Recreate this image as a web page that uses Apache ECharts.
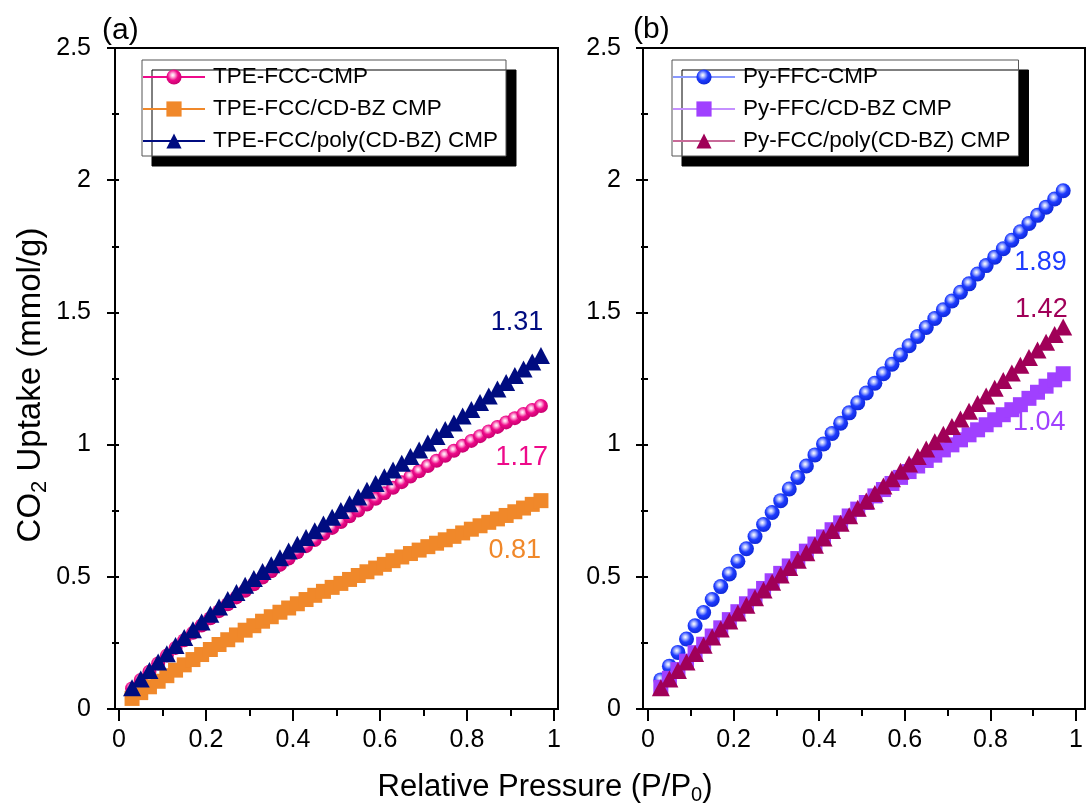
<!DOCTYPE html>
<html>
<head>
<meta charset="utf-8">
<title>CO2 uptake isotherms</title>
<script src="https://cdn.jsdelivr.net/npm/echarts@6/dist/echarts.min.js"></script>
<style>
  html, body { margin: 0; padding: 0; background: #ffffff; }
  #chart { width: 1086px; height: 805px; }
</style>
</head>
<body>
<div id="chart"></div>
<script>
// Relative pressure (P/P0) of every measured point, shared by all isotherms
const pressure = [0.03, 0.05, 0.07, 0.09, 0.11, 0.13, 0.15, 0.17, 0.19, 0.21, 0.23, 0.25,
  0.27, 0.29, 0.31, 0.33, 0.35, 0.37, 0.39, 0.41, 0.43, 0.45, 0.47, 0.49,
  0.51, 0.53, 0.55, 0.57, 0.59, 0.61, 0.63, 0.65, 0.67, 0.69, 0.71, 0.73,
  0.75, 0.77, 0.79, 0.81, 0.83, 0.85, 0.87, 0.89, 0.91, 0.93, 0.95, 0.97];

// (a) CO2 uptake, mmol/g
const tpeFccCmp = [0.078, 0.110, 0.141, 0.172, 0.202, 0.231, 0.260, 0.288, 0.316, 0.343, 0.370, 0.396,
  0.422, 0.447, 0.472, 0.497, 0.521, 0.545, 0.569, 0.593, 0.616, 0.639, 0.662, 0.685,
  0.707, 0.729, 0.751, 0.773, 0.795, 0.816, 0.837, 0.858, 0.879, 0.899, 0.919, 0.939,
  0.958, 0.977, 0.996, 1.014, 1.032, 1.050, 1.067, 1.084, 1.100, 1.116, 1.131, 1.146];
const tpeFccCdbz = [0.040, 0.062, 0.084, 0.105, 0.126, 0.147, 0.167, 0.187, 0.206, 0.225, 0.244, 0.262,
  0.280, 0.298, 0.315, 0.332, 0.349, 0.366, 0.382, 0.398, 0.414, 0.430, 0.445, 0.460,
  0.475, 0.490, 0.505, 0.519, 0.533, 0.547, 0.561, 0.575, 0.588, 0.601, 0.614, 0.627,
  0.640, 0.653, 0.666, 0.680, 0.693, 0.706, 0.719, 0.732, 0.746, 0.760, 0.774, 0.788];
const tpeFccPoly = [0.080, 0.113, 0.146, 0.178, 0.209, 0.240, 0.270, 0.300, 0.329, 0.358, 0.386, 0.414,
  0.441, 0.468, 0.494, 0.520, 0.546, 0.572, 0.598, 0.623, 0.649, 0.674, 0.700, 0.725,
  0.751, 0.776, 0.802, 0.827, 0.853, 0.878, 0.904, 0.929, 0.955, 0.980, 1.006, 1.031,
  1.057, 1.082, 1.108, 1.133, 1.159, 1.184, 1.210, 1.235, 1.261, 1.286, 1.312, 1.337];

// (b) CO2 uptake, mmol/g
const pyFfcCmp = [0.110, 0.162, 0.214, 0.265, 0.315, 0.365, 0.414, 0.463, 0.511, 0.559, 0.606, 0.652,
  0.698, 0.743, 0.788, 0.832, 0.876, 0.919, 0.961, 1.002, 1.042, 1.081, 1.120, 1.158,
  1.195, 1.232, 1.268, 1.304, 1.339, 1.374, 1.409, 1.443, 1.477, 1.510, 1.543, 1.576,
  1.608, 1.645, 1.677, 1.709, 1.741, 1.773, 1.805, 1.836, 1.867, 1.898, 1.929, 1.960];
const pyFfcCdbz = [0.082, 0.116, 0.149, 0.181, 0.213, 0.245, 0.276, 0.307, 0.338, 0.368, 0.398, 0.427,
  0.456, 0.485, 0.513, 0.541, 0.569, 0.597, 0.624, 0.651, 0.678, 0.704, 0.730, 0.756,
  0.781, 0.806, 0.830, 0.853, 0.876, 0.898, 0.919, 0.940, 0.960, 0.980, 0.999, 1.018,
  1.037, 1.056, 1.075, 1.094, 1.113, 1.132, 1.151, 1.175, 1.198, 1.221, 1.245, 1.268];
const pyFccPoly = [0.080, 0.113, 0.146, 0.178, 0.210, 0.241, 0.272, 0.303, 0.333, 0.363, 0.392, 0.421,
  0.450, 0.479, 0.507, 0.535, 0.563, 0.591, 0.619, 0.647, 0.675, 0.703, 0.731, 0.759,
  0.787, 0.815, 0.843, 0.871, 0.899, 0.927, 0.955, 0.983, 1.011, 1.039, 1.068, 1.097,
  1.126, 1.155, 1.184, 1.213, 1.242, 1.271, 1.300, 1.329, 1.358, 1.387, 1.416, 1.445];

const seriesNamesA = ['TPE-FCC-CMP', 'TPE-FCC/CD-BZ CMP', 'TPE-FCC/poly(CD-BZ) CMP'];
const seriesNamesB = ['Py-FFC-CMP', 'Py-FFC/CD-BZ CMP', 'Py-FCC/poly(CD-BZ) CMP'];

// Uptake values quoted next to the curves
const quotedA = [1.31, 1.17, 0.81];
const quotedB = [1.89, 1.42, 1.04];

const panelLabels = ['(a)', '(b)'];
const xTickValues = [0, 0.2, 0.4, 0.6, 0.8, 1];
const yTickValues = [0, 0.5, 1, 1.5, 2, 2.5];

const FONT = '"Liberation Sans", Arial, Helvetica, sans-serif';

const COLORS = {
  pink: '#EE0A8A', orange: '#F0882A', navy: '#000C80',
  blue: '#1E3CFF', violet: '#A040FF', maroon: '#A00058'
};

function sphere(light, base, dark) {
  return {
    type: 'radial', x: 0.42, y: 0.38, r: 0.62,
    colorStops: [
      { offset: 0, color: '#ffffff' },
      { offset: 0.2, color: light },
      { offset: 0.55, color: base },
      { offset: 1, color: dark }
    ]
  };
}

function pairs(ys) {
  return pressure.map((p, i) => [p, ys[i]]);
}

function makeSeries(name, ys, grid, symbol, size, fill, lineColor) {
  return {
    type: 'line',
    name: name,
    xAxisIndex: grid,
    yAxisIndex: grid,
    data: pairs(ys),
    symbol: symbol,
    symbolSize: size,
    showSymbol: true,
    itemStyle: { color: fill, borderWidth: 0 },
    lineStyle: { color: lineColor, width: 1.2 },
    emphasis: { disabled: true },
    animation: false,
    silent: true
  };
}

function xAxisFor(grid) {
  return {
    type: 'value', gridIndex: grid, min: 0, max: 1, interval: 0.2,
    axisLine: { show: false },
    axisTick: { show: true, inside: false, length: 12, lineStyle: { color: '#000', width: 2 } },
    minorTick: { show: true, splitNumber: 2, length: 7, lineStyle: { color: '#000', width: 2 } },
    splitLine: { show: false },
    minorSplitLine: { show: false },
    axisLabel: { color: '#000', fontSize: 25, fontFamily: FONT, margin: 19,
      formatter: v => String(xTickValues.find(t => Math.abs(t - v) < 1e-9) ?? v) }
  };
}

function yAxisFor(grid, offset, margin) {
  return {
    type: 'value', gridIndex: grid, min: 0, max: 2.5, interval: 0.5, offset: offset,
    axisLine: { show: false },
    axisTick: { show: true, inside: false, length: 12, lineStyle: { color: '#000', width: 2 } },
    minorTick: { show: true, splitNumber: 2, length: 7, lineStyle: { color: '#000', width: 2 } },
    splitLine: { show: false },
    minorSplitLine: { show: false },
    axisLabel: { color: '#000', fontSize: 25, fontFamily: FONT, margin: margin,
      formatter: v => String(yTickValues.find(t => Math.abs(t - v) < 1e-9) ?? v) }
  };
}

function legendFor(names, left, top) {
  return {
    data: names,
    orient: 'vertical',
    left: left, top: top,
    itemWidth: 62, itemHeight: 19, itemGap: 8,
    padding: [5, 8, 3, 0],
    backgroundColor: '#ffffff',
    borderColor: '#555555', borderWidth: 1,
    shadowColor: '#000000', shadowBlur: 0, shadowOffsetX: 10, shadowOffsetY: 10,
    selectedMode: false,
    textStyle: { color: '#000', fontSize: 22.5, fontFamily: FONT, lineHeight: 24, padding: [0, 0, 0, 3] }
  };
}

const chart = echarts.init(document.getElementById('chart'), null, { renderer: 'canvas' });

const option = {
  backgroundColor: '#ffffff',
  animation: false,
  grid: [
    { left: 119, top: 48, width: 435, height: 661 },
    { left: 648, top: 48, width: 434, height: 661 }
  ],
  xAxis: [xAxisFor(0), xAxisFor(1)],
  yAxis: [yAxisFor(0, 4, 24), yAxisFor(1, 5, 22)],
  legend: [legendFor(seriesNamesA, 142, 60), legendFor(seriesNamesB, 672, 60)],
  series: [
    makeSeries(seriesNamesA[0], tpeFccCmp, 0, 'circle', 14, sphere('#ffb6de', COLORS.pink, '#c8006f'), COLORS.pink),
    makeSeries(seriesNamesA[1], tpeFccCdbz, 0, 'rect', 15, COLORS.orange, COLORS.orange),
    makeSeries(seriesNamesA[2], tpeFccPoly, 0, 'triangle', [18, 17], COLORS.navy, COLORS.navy),
    makeSeries(seriesNamesB[0], pyFfcCmp, 1, 'circle', 15, sphere('#b8c4ff', COLORS.blue, '#0f28d8'), '#8898ff'),
    makeSeries(seriesNamesB[1], pyFfcCdbz, 1, 'rect', 15, COLORS.violet, '#c590ff'),
    makeSeries(seriesNamesB[2], pyFccPoly, 1, 'triangle', [18, 17], COLORS.maroon, '#c86a98')
  ]
};

chart.setOption(option);

// Free text and frames, positioned once the axes exist
const noteAnchorsA = [[0.915, 1.46], [0.926, 0.95], [0.91, 0.60]];
const noteAnchorsB = [[0.917, 1.687], [0.919, 1.509], [0.914, 1.082]];
const noteColorsA = [COLORS.navy, COLORS.pink, COLORS.orange];
const noteColorsB = [COLORS.blue, COLORS.maroon, COLORS.violet];

const graphics = [];

function frame(x, y, w, h) {
  graphics.push({
    type: 'rect', z: 50, silent: true,
    shape: { x: x, y: y, width: w, height: h },
    style: { fill: null, stroke: '#000', lineWidth: 2 }
  });
}
frame(115, 48, 443, 661);
frame(643, 48, 442, 661);

function notes(values, anchors, colors, grid) {
  values.forEach((v, i) => {
    const pt = chart.convertToPixel({ xAxisIndex: grid, yAxisIndex: grid }, anchors[i]);
    graphics.push({
      type: 'text', z: 60, silent: true, x: pt[0], y: pt[1],
      style: { text: v.toFixed(2), fill: colors[i], font: '27px ' + FONT, align: 'center', verticalAlign: 'middle' }
    });
  });
}
notes(quotedA, noteAnchorsA, noteColorsA, 0);
notes(quotedB, noteAnchorsB, noteColorsB, 1);

graphics.push({
  type: 'text', z: 60, silent: true, x: 102, y: 31,
  style: { text: panelLabels[0], fill: '#000', font: '30px ' + FONT, align: 'left', verticalAlign: 'middle' }
});
graphics.push({
  type: 'text', z: 60, silent: true, x: 633, y: 30,
  style: { text: panelLabels[1], fill: '#000', font: '30px ' + FONT, align: 'left', verticalAlign: 'middle' }
});

function titleRich(size) {
  return {
    n: { fontSize: size, fontFamily: FONT, color: '#000', lineHeight: Math.round(size * 1.2) },
    s: { fontSize: Math.round(size * 0.66), fontFamily: FONT, color: '#000', lineHeight: Math.round(size * 0.66), verticalAlign: 'bottom' }
  };
}

graphics.push({
  type: 'text', z: 60, silent: true, x: 545, y: 787,
  style: { text: '{n|Relative Pressure (P/P}{s|0}{n|)}', rich: titleRich(31), align: 'center', verticalAlign: 'middle' }
});
graphics.push({
  type: 'text', z: 60, silent: true, x: 31, y: 385, rotation: Math.PI / 2,
  style: { text: '{n|CO}{s|2}{n| Uptake (mmol/g)}', rich: titleRich(33), align: 'center', verticalAlign: 'middle' }
});

chart.setOption({ graphic: graphics });
</script>
</body>
</html>
